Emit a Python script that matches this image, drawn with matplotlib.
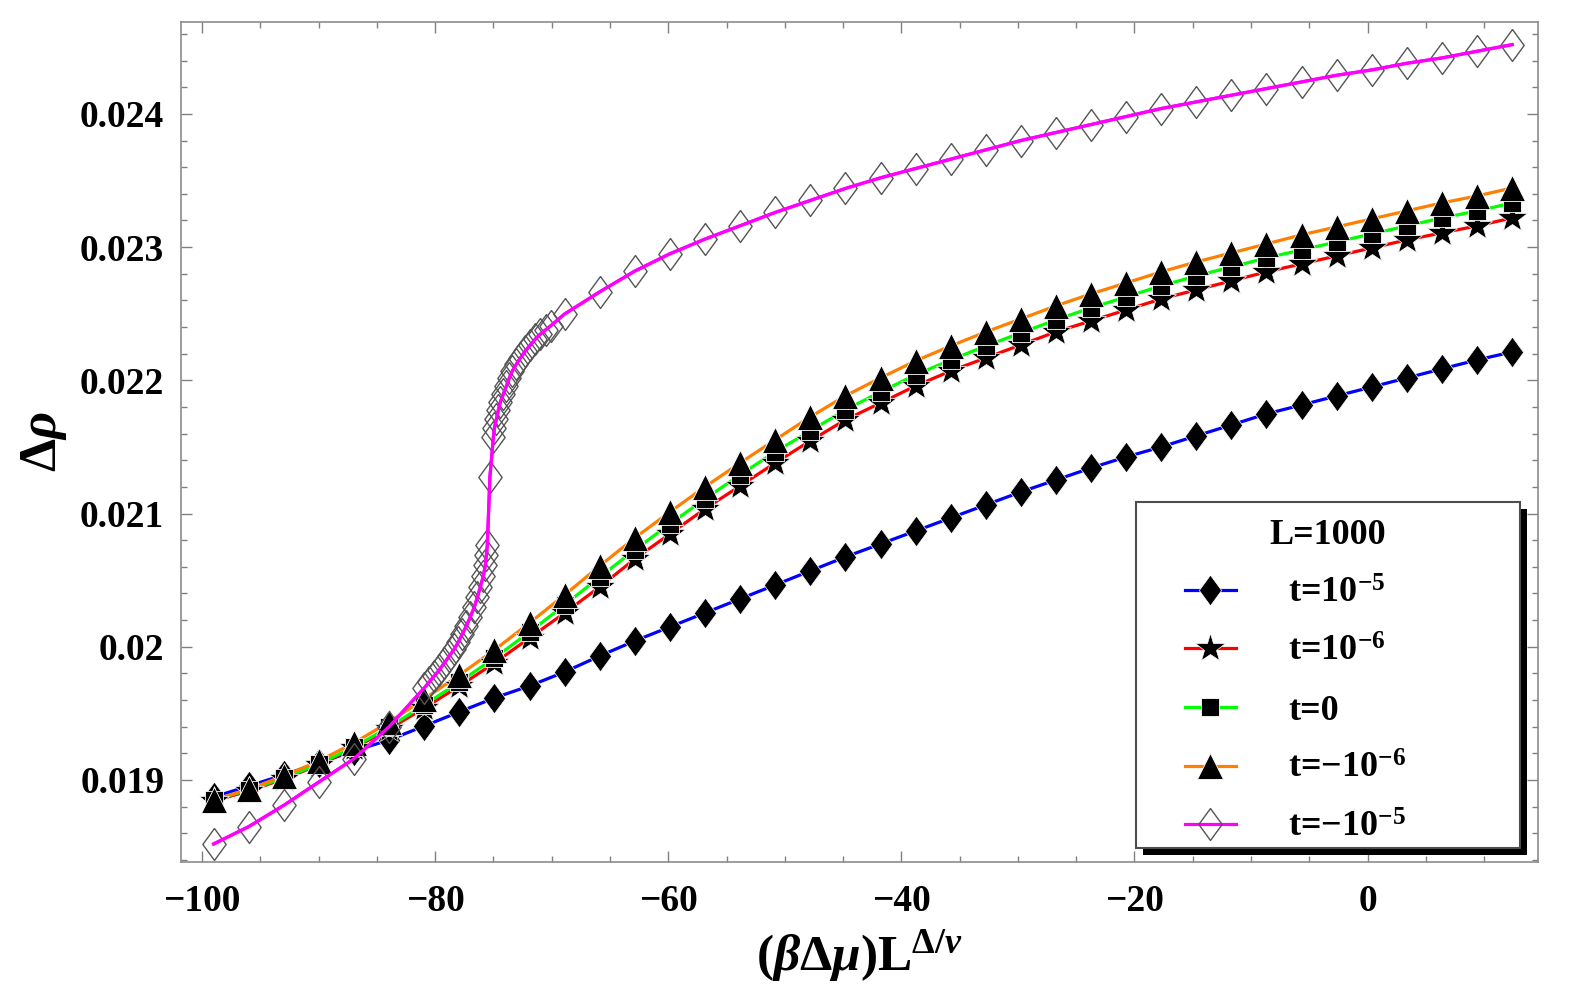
import numpy as np
import matplotlib
matplotlib.use('Agg')
import matplotlib.pyplot as plt
from matplotlib.lines import Line2D
from matplotlib.patches import Rectangle
from matplotlib.ticker import MultipleLocator, FuncFormatter

plt.rcParams['font.family'] = ['Liberation Serif', 'DejaVu Serif']
plt.rcParams['font.weight'] = 'bold'
plt.rcParams['mathtext.fontset'] = 'custom'
plt.rcParams['mathtext.rm'] = 'Liberation Serif:bold'
plt.rcParams['mathtext.it'] = 'Liberation Serif:italic:bold'
plt.rcParams['mathtext.bf'] = 'Liberation Serif:bold'

# common x grid of the scaled chemical potential
x_grid = [-99.0, -95.99, -92.98, -89.97, -86.96, -83.95, -80.94, -77.92, -74.91, -71.90,
          -68.89, -65.88, -62.87, -59.86, -56.85, -53.84, -50.83, -47.82, -44.81, -41.79,
          -38.78, -35.77, -32.76, -29.75, -26.74, -23.73, -20.72, -17.71, -14.70, -11.69,
          -8.68, -5.66, -2.65, 0.36, 3.37, 6.38, 9.39, 12.40]

rho_t1e5 = [0.018872, 0.018955, 0.019038, 0.019128, 0.019218, 0.019300, 0.019405, 0.019511,
            0.019616, 0.019706, 0.019811, 0.019931, 0.020044, 0.020149, 0.020254, 0.020359,
            0.020464, 0.020569, 0.020674, 0.020772, 0.020869, 0.020967, 0.021065, 0.021162,
            0.021252, 0.021342, 0.021425, 0.021500, 0.021583, 0.021665, 0.021748, 0.021815,
            0.021883, 0.021950, 0.022018, 0.022086, 0.022153, 0.022213]

rho_t1e6 = [0.018843, 0.018917, 0.019008, 0.019113, 0.019240, 0.019382, 0.019540, 0.019705,
            0.019878, 0.020066, 0.020254, 0.020449, 0.020659, 0.020847, 0.021035, 0.021207,
            0.021380, 0.021545, 0.021703, 0.021830, 0.021958, 0.022070, 0.022168, 0.022266,
            0.022364, 0.022446, 0.022528, 0.022611, 0.022679, 0.022746, 0.022814, 0.022874,
            0.022934, 0.022994, 0.023054, 0.023107, 0.023159, 0.023219]

rho_t0 = [0.018850, 0.018925, 0.019015, 0.019120, 0.019248, 0.019397, 0.019563, 0.019735,
          0.019916, 0.020111, 0.020314, 0.020524, 0.020727, 0.020922, 0.021110, 0.021290,
          0.021463, 0.021620, 0.021778, 0.021913, 0.022041, 0.022153, 0.022258, 0.022356,
          0.022454, 0.022544, 0.022626, 0.022709, 0.022784, 0.022851, 0.022919, 0.022979,
          0.023039, 0.023099, 0.023159, 0.023219, 0.023271, 0.023331]

rho_tm1e6 = [0.018850, 0.018932, 0.019030, 0.019143, 0.019278, 0.019435, 0.019608, 0.019788,
             0.019976, 0.020179, 0.020389, 0.020607, 0.020817, 0.021012, 0.021200, 0.021380,
             0.021553, 0.021725, 0.021883, 0.022018, 0.022146, 0.022258, 0.022363, 0.022461,
             0.022559, 0.022649, 0.022731, 0.022814, 0.022889, 0.022956, 0.023024, 0.023092,
             0.023152, 0.023212, 0.023272, 0.023332, 0.023384, 0.023444]

# t = -1e-5 has extra samples around the jump near -75
x_tm1e5 = [-99.0, -95.99, -92.98, -89.97, -86.96, -83.95,
           -80.93, -80.50, -80.07, -79.64, -79.21, -78.78, -78.35, -78.01, -77.66, -77.32,
           -76.98, -76.63, -76.37, -76.12, -75.86, -75.69, -75.60, -75.52,
           -75.30,
           -75.00, -74.91, -74.74, -74.57, -74.40, -74.14, -73.88, -73.63, -73.37, -73.02,
           -72.68, -72.25, -71.82, -71.39, -70.96, -70.53, -70.10,
           -68.89, -65.88, -62.87, -59.86, -56.85, -53.84, -50.83, -47.82, -44.81, -41.79,
           -38.78, -35.77, -32.76, -29.75, -26.74, -23.73, -20.72, -17.71, -14.70, -11.69,
           -8.68, -5.66, -2.65, 0.36, 3.37, 6.38, 9.39, 12.40]
rho_tm1e5 = [0.01852, 0.01865, 0.01881, 0.018985, 0.01916, 0.01940,
             0.019691, 0.019736, 0.019781, 0.019826, 0.019878, 0.019931, 0.019983, 0.020036,
             0.020096, 0.020156, 0.020224, 0.020299, 0.020374, 0.020449, 0.020532, 0.020614,
             0.020689, 0.020764,
             0.021275,
             0.021575, 0.021643, 0.021710, 0.021778, 0.021838, 0.021898, 0.021958, 0.022018,
             0.022071, 0.022123, 0.022168, 0.022221, 0.022266, 0.022311, 0.022348, 0.022378,
             0.022408,
             0.022498, 0.022664, 0.02282, 0.02295, 0.02306, 0.02316, 0.02326, 0.02335,
             0.02344, 0.02352, 0.02359, 0.02366, 0.02373, 0.02380, 0.02386, 0.02392,
             0.02398, 0.02404, 0.02409, 0.02414, 0.02419, 0.02424, 0.02429, 0.02433,
             0.02438, 0.02442, 0.02447, 0.02452]

legend_title = 'L=1000'
labels = ['t=10$^{-5}$', 't=10$^{-6}$', 't=0', 't=\u221210$^{-6}$', 't=\u221210$^{-5}$']
colors = ['#0000ff', '#ff0000', '#00ff00', '#ff8000', '#ff00ff']

diamond = [(0, 1), (0.73, 0), (0, -1), (-0.73, 0), (0, 1)]
series = [
    (x_grid, rho_t1e5, dict(marker=diamond, ms=22, mfc='black', mec='white', mew=0.5)),
    (x_grid, rho_t1e6, dict(marker='*', ms=22, mfc='black', mec='white', mew=0.5)),
    (x_grid, rho_t0, dict(marker='s', ms=13, mfc='black', mec='white', mew=0.6)),
    (x_grid, rho_tm1e6, dict(marker='^', ms=19, mfc='black', mec='white', mew=0.6)),
    (x_tm1e5, rho_tm1e5, dict(marker=diamond, ms=23, mfc='none', mec='#555555', mew=1.0)),
]

fig = plt.figure(figsize=(15.74, 9.92), dpi=100)
ax = fig.add_axes([0.115, 0.131, 0.862, 0.847])

handles = []
for (xs, ys, mk), c in zip(series, colors):
    ax.plot(xs, ys, color=c, lw=2.3, zorder=2)
for (xs, ys, mk), c in zip(series, colors):
    ax.plot(xs, ys, ls='none', zorder=3, **mk)
    handles.append(Line2D([], [], color=c, lw=2.3, **mk))
# magenta curve sits on top of the black markers
ax.plot(x_tm1e5, rho_tm1e5, color=colors[4], lw=2.3, zorder=4)

ax.set_xlim(-101.8, 14.6)
ax.set_ylim(0.018384, 0.024691)
ax.xaxis.set_major_locator(MultipleLocator(20))
ax.xaxis.set_minor_locator(MultipleLocator(5))
ax.yaxis.set_major_locator(MultipleLocator(0.001))
ax.yaxis.set_minor_locator(MultipleLocator(0.0002))
ax.xaxis.set_major_formatter(FuncFormatter(lambda v, p: ('%g' % v).replace('-', '\u2212')))
ax.yaxis.set_major_formatter(FuncFormatter(lambda v, p: '%g' % round(v, 6)))

ax.tick_params(which='both', direction='in', top=True, right=True, color='0.5', width=1)
ax.tick_params(which='major', length=8, labelsize=27)
ax.tick_params(axis='x', which='major', pad=16)
ax.tick_params(axis='y', which='major', pad=12)
ax.tick_params(which='minor', length=4)
for s in ax.spines.values():
    s.set_color('0.55')
    s.set_linewidth(1.2)

ax.set_xlabel(r'$(\beta\Delta\mu)\mathrm{L}^{\Delta/\nu}$', fontsize=37, labelpad=6)
ax.set_ylabel(r'$\Delta\rho$', fontsize=38, labelpad=8)

# legend: framed box with a hard black drop shadow, title centred in the box
box = (0.7037, 0.0167, 0.2830, 0.4119)
ax.add_patch(Rectangle((box[0] + 0.0052, box[1] - 0.0083), box[2], box[3],
                       transform=ax.transAxes, facecolor='black', edgecolor='none',
                       zorder=5, clip_on=False))
ax.add_patch(Rectangle(box[:2], box[2], box[3], transform=ax.transAxes,
                       facecolor='white', edgecolor='0.3', lw=1.5, zorder=5.5, clip_on=False))
ax.text(box[0] + box[2] / 2, 0.389, legend_title, transform=ax.transAxes,
        ha='center', va='center', fontsize=26, fontweight='bold', zorder=6)

leg = ax.legend(handles, labels, loc='upper left', bbox_to_anchor=(0.740, 0.339),
                borderaxespad=0, borderpad=0, fontsize=26, frameon=False,
                handlelength=1.4, handletextpad=1.45, labelspacing=0.7)
leg.set_zorder(6)

fig.savefig('out.png', dpi=100)
